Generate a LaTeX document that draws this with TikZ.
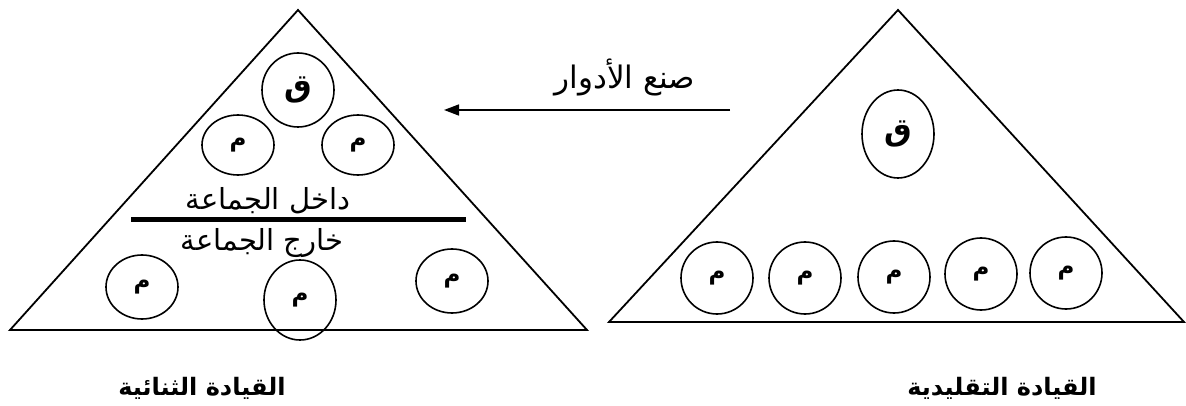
\documentclass[tikz,border=0pt]{standalone}
\usepackage{fontspec}
\usetikzlibrary{shapes.geometric,arrows.meta}
\TeXXeTstate=1
\newfontfamily\arabicfont[Script=Arabic]{DejaVu Sans}
\begin{document}
\begin{tikzpicture}[x=1pt,y=-1pt,
  tri/.style={draw,line width=1.8pt,line join=miter},
  mem/.style={draw,ellipse,line width=1.6pt,minimum width=72pt,minimum height=64pt,inner sep=0pt,
    font=\arabicfont\bfseries\fontsize{23}{23}\selectfont},
  lead/.style={mem,font=\arabicfont\bfseries\fontsize{31}{31}\selectfont},
  lbl/.style={inner sep=0pt,font=\arabicfont\fontsize{29}{33}\selectfont},
  title/.style={inner sep=0pt,font=\arabicfont\bfseries\fontsize{24}{28}\selectfont},
  arr/.style={line width=1.6pt,-{Triangle[length=15pt,width=11pt]}},
  bar/.style={line width=5pt}
]
\useasboundingbox (0,0) rectangle (1186,406);
% left triangle (dual leadership)
\coordinate (L1) at (10,330);
\coordinate (L2) at (298,10);
\coordinate (L3) at (587,330);
\draw[tri] (L1) -- (L2) -- (L3) -- cycle;
\node[lead,minimum height=74pt] (lq) at (298,90) {\beginR ق\endR};
\node[mem,minimum height=60pt] (lm1) at (238,145) {\beginR م\endR};
\node[mem,minimum height=60pt] (lm2) at (358,145) {\beginR م\endR};
\node[lbl] (inside) at (268,201) {\beginR داخل الجماعة\endR};
\coordinate (b1) at (131,220);
\coordinate (b2) at (466,220);
\draw[bar] (b1) -- (b2);
\node[lbl] (outside) at (262,243) {\beginR خارج الجماعة\endR};
\node[mem] (lm3) at (142,287) {\beginR م\endR};
\node[mem,minimum height=80pt] (lm4) at (300,300) {\beginR م\endR};
\node[mem] (lm5) at (452,281) {\beginR م\endR};
% right triangle (traditional leadership)
\coordinate (R1) at (609,322);
\coordinate (R2) at (898,10);
\coordinate (R3) at (1184,322);
\draw[tri] (R1) -- (R2) -- (R3) -- cycle;
\node[lead,minimum height=88pt] (rq) at (898,134) {\beginR ق\endR};
\node[mem,minimum height=72pt] (rm1) at (717,278) {\beginR م\endR};
\node[mem,minimum height=72pt] (rm2) at (805,278) {\beginR م\endR};
\node[mem,minimum height=72pt] (rm3) at (894,277) {\beginR م\endR};
\node[mem,minimum height=72pt] (rm4) at (981,274) {\beginR م\endR};
\node[mem,minimum height=72pt] (rm5) at (1066,273) {\beginR م\endR};
% arrow
\coordinate (aS) at (730,110);
\coordinate (aE) at (444,110);
\draw[arr] (aS) -- (aE);
\node[lbl,font=\arabicfont\fontsize{31}{35}\selectfont] (roles) at (625,77) {\beginR صنع الأدوار\endR};
% titles
\node[title] (tdual) at (202,388) {\beginR القيادة الثنائية\endR};
\node[title] (ttrad) at (1002,388) {\beginR القيادة التقليدية\endR};
\end{tikzpicture}
\end{document}
